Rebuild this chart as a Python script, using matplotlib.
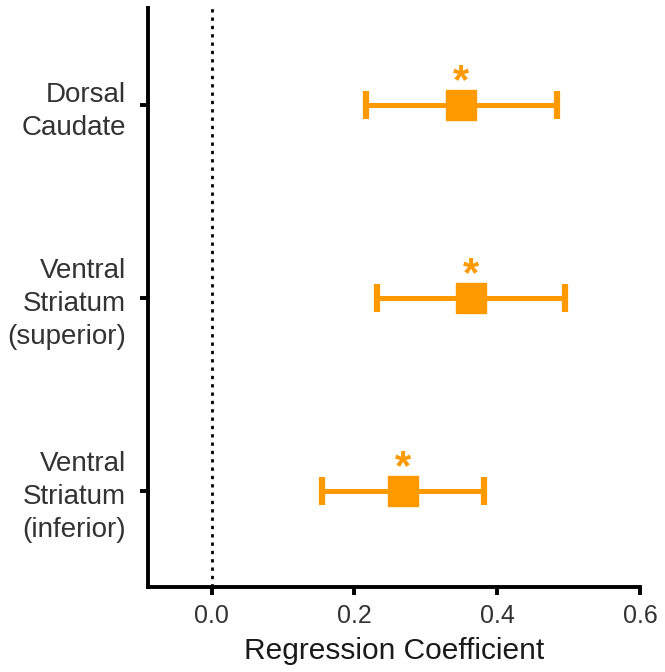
import numpy as np
import matplotlib.pyplot as plt

# values
regions = ["Dorsal\nCaudate", "Ventral\nStriatum\n(superior)", "Ventral\nStriatum\n(inferior)"]
coef = [0.350, 0.364, 0.268]
ci_low = [0.216, 0.232, 0.155]
ci_high = [0.484, 0.495, 0.381]
signif = ["*", "*", "*"]

orange = "#FF9900"
plt.rcParams['font.family'] = ['Liberation Sans', 'DejaVu Sans']

fig = plt.figure(figsize=(6.65, 6.72), dpi=100)
ax = fig.add_axes([0.2226, 0.1265, 0.7398, 0.8615])

ypos = np.arange(len(regions), 0, -1)
coef = np.array(coef)
xerr = np.vstack([coef - np.array(ci_low), np.array(ci_high) - coef])

ax.axvline(0, color="black", linestyle=(0, (1.2, 1.8)), linewidth=2, zorder=1)
ax.errorbar(coef, ypos, xerr=xerr, fmt="s", color=orange, ecolor=orange,
            markersize=22, elinewidth=3.6, capsize=10, capthick=4.5, zorder=3)

for x, y, s in zip(coef, ypos, signif):
    ax.annotate(s, (x, y), xytext=(0, 2), textcoords="offset points",
                ha="center", va="bottom", fontsize=30, fontweight="bold", color=orange)

ax.set_xlim(-0.089, 0.6)
ax.set_ylim(0.5, 3.5)
ax.set_xticks([0.0, 0.2, 0.4, 0.6])
ax.set_xticklabels(["0.0", "0.2", "0.4", "0.6"])
ax.set_yticks(ypos)
ax.set_yticklabels(regions, linespacing=1.36, fontsize=20)
ax.set_xlabel("Regression Coefficient", fontsize=21.5, color="#1a1a1a", labelpad=7)

for side in ["top", "right"]:
    ax.spines[side].set_visible(False)
for side in ["left", "bottom"]:
    ax.spines[side].set_linewidth(2.8)
ax.tick_params(axis="both", width=2.8, length=6, labelsize=18, labelcolor="#333333")
ax.tick_params(axis="y", labelsize=20, pad=10)
ax.tick_params(axis="x", pad=6)

fig.savefig("out.png", dpi=100)
